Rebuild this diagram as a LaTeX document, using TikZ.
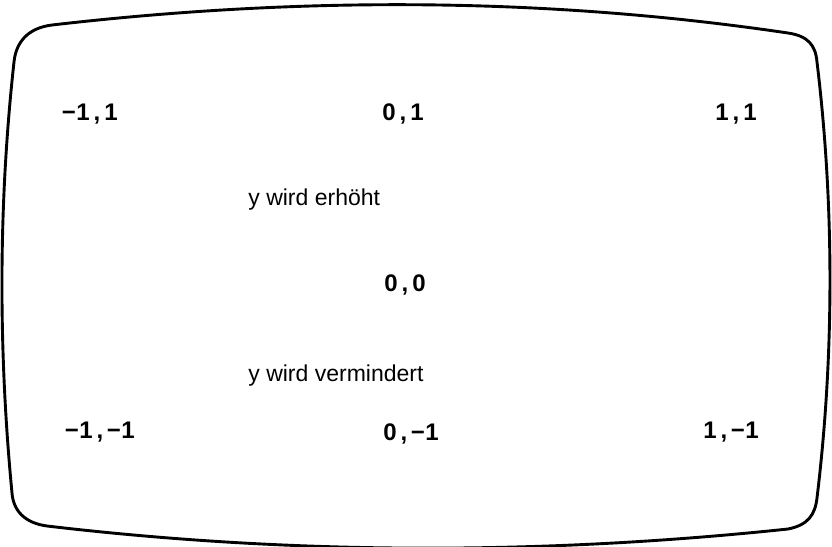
\documentclass[tikz,border=0pt]{standalone}
\usepackage{fontspec}
\setmainfont{Liberation Sans}
\newcommand\cellch[1]{\makebox[7pt]{#1}}
\begin{document}
\begin{tikzpicture}[x=0.5pt,y=-0.5pt,
  coord/.style={anchor=base,inner sep=0pt,font=\fontsize{12}{14}\selectfont\bfseries},
  note/.style={anchor=base west,inner sep=0pt,font=\fontsize{11.5}{14}\selectfont},
  screen/.style={line width=1.45pt,line join=round}]
\useasboundingbox (0,0) rectangle (832,547);
% screen outline with bulging edges and rounded corners
\draw[screen]
  (14,62) .. controls (16,42) and (28,28) .. (52,25)
  .. controls (297,-3.3) and (543,-3.3) .. (788,33)
  .. controls (808,36) and (815.5,45) .. (817,62)
  .. controls (834.3,205) and (834.3,355) .. (817,498)
  .. controls (815,515) and (808,525) .. (788,529)
  .. controls (542,555) and (293,555) .. (47,526)
  .. controls (25,523) and (13.4,511) .. (12,493)
  .. controls (-1.7,350) and (-1.7,205) .. cycle;
% coordinate labels
\node[coord] (mp) at (90,120) {\cellch{−}\cellch{1}\cellch{,}\cellch{1}};
\node[coord] (zp) at (403,120) {\cellch{0}\cellch{,}\cellch{1}};
\node[coord] (pp) at (736,120) {\cellch{1}\cellch{,}\cellch{1}};
\node[coord] (zz) at (405,291) {\cellch{0}\cellch{,}\cellch{0}};
\node[coord] (mm) at (100,438) {\cellch{−}\cellch{1}\cellch{,}\cellch{−}\cellch{1}};
\node[coord] (zm) at (411,440) {\cellch{0}\cellch{,}\cellch{−}\cellch{1}};
\node[coord] (pm) at (731,438) {\cellch{1}\cellch{,}\cellch{−}\cellch{1}};
% explanatory text
\node[note] (up) at (248,205) {y wird erhöht};
\node[note] (down) at (248,381) {y wird vermindert};
\end{tikzpicture}
\end{document}
